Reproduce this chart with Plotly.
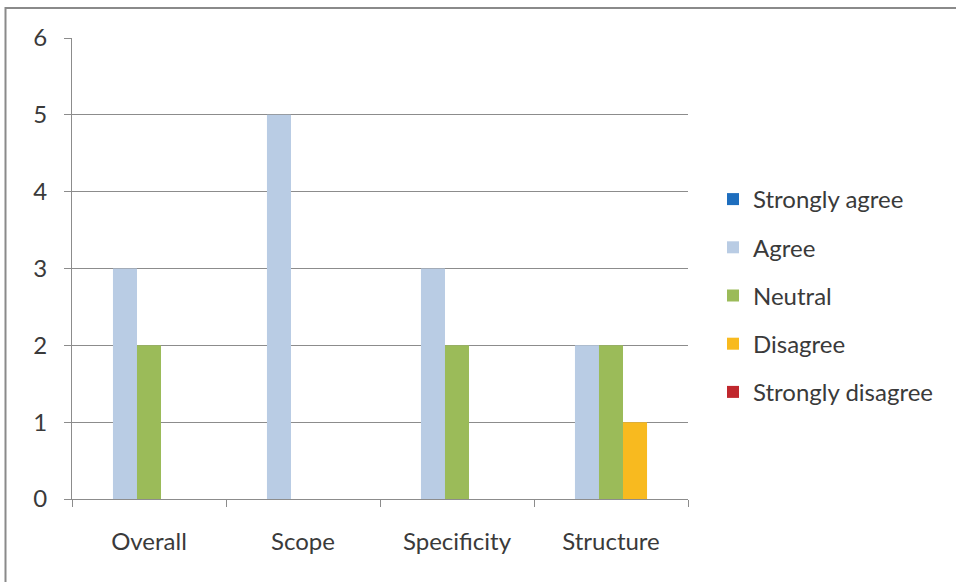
import plotly.graph_objects as go

categories = ["Overall", "Scope", "Specificity", "Structure"]
series_names = ["Strongly agree", "Agree", "Neutral", "Disagree", "Strongly disagree"]
strongly_agree = [0, 0, 0, 0]
agree = [3, 5, 3, 2]
neutral = [2, 0, 2, 2]
disagree = [0, 0, 0, 1]
strongly_disagree = [0, 0, 0, 0]
series_values = [strongly_agree, agree, neutral, disagree, strongly_disagree]
colors = ["#1E6EBE", "#B9CCE4", "#9BBB59", "#F8BA1F", "#C0272D"]
y_ticks = [0, 1, 2, 3, 4, 5, 6]

FONT = "Lato, 'Open Sans', sans-serif"
TEXT = "#3a3a3a"
GRID = "#8c8c8c"
FS = 24

fig = go.Figure()
for name, vals, col in zip(series_names, series_values, colors):
    fig.add_trace(go.Bar(
        name=name, x=categories, y=vals, marker_color=col,
        marker_line_width=0, legendgroup=name,
    ))

W, H = 956, 582
L, R, T, B = 72, 688, 38, 499
fig.update_layout(
    width=W, height=H,
    margin=dict(l=L, r=W - R, t=T, b=H - B, pad=0),
    paper_bgcolor="white", plot_bgcolor="white",
    barmode="group", bargap=0.22, bargroupgap=0,
    font=dict(family=FONT, size=FS, color=TEXT),
    showlegend=True,
    legend=dict(
        x=(713 - L) / (R - L), xanchor="left",
        y=(B - 177) / (B - T), yanchor="top",
        font=dict(family=FONT, size=FS, color=TEXT),
        tracegroupgap=14, itemclick=False,
        bgcolor="rgba(0,0,0,0)",
    ),
    xaxis=dict(
        type="category", showgrid=False, showline=True, linecolor=GRID, linewidth=1,
        ticks="outside", tickson="boundaries", ticklen=7, tickcolor=GRID,
        ticklabelstandoff=21, tickfont=dict(size=FS, color=TEXT),
    ),
    yaxis=dict(
        range=[0, 6], tickvals=y_ticks, showgrid=True, gridcolor=GRID, gridwidth=1,
        showline=True, linecolor=GRID, linewidth=1, ticks="outside", ticklen=7,
        tickcolor=GRID, ticklabelstandoff=12, zeroline=False,
        tickfont=dict(size=FS, color=TEXT),
    ),
    shapes=[dict(
        type="rect", xref="paper", yref="paper",
        x0=(5.5 - L) / (R - L), x1=2.0,
        y0=-1.0, y1=(B - 8) / (B - T),
        line=dict(color="#8a8a8a", width=2), layer="below",
    )],
)

fig.write_html("out.html")
